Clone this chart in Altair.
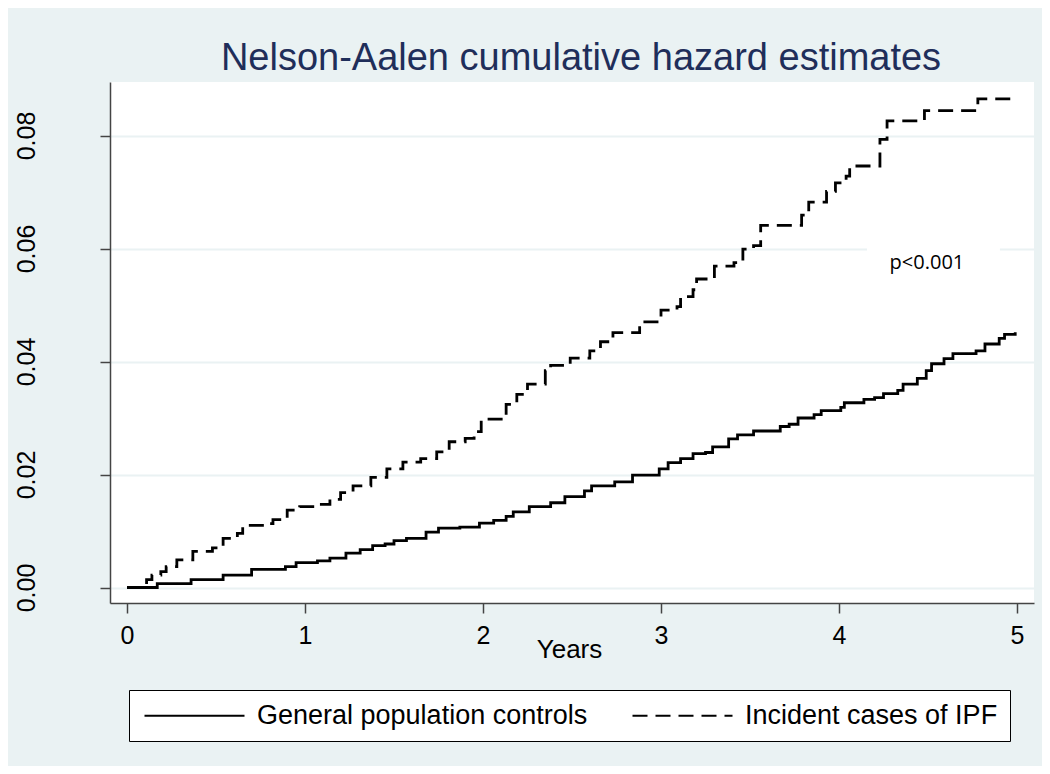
import altair as alt
import pandas as pd

# ---- data ----
series_names = ["General population controls", "Incident cases of IPF"]

ctrl_t = [0.00, 0.17, 0.36, 0.54, 0.70, 0.89, 0.95, 1.07, 1.14, 1.23, 1.31, 1.38,
          1.45, 1.50, 1.57, 1.68, 1.75, 1.87, 1.98, 2.06, 2.13, 2.17, 2.26, 2.38,
          2.46, 2.57, 2.61, 2.74, 2.84, 2.99, 3.04, 3.11, 3.18, 3.25, 3.29, 3.38,
          3.43, 3.52, 3.67, 3.72, 3.77, 3.86, 3.90, 4.01, 4.03, 4.14, 4.20, 4.25,
          4.33, 4.36, 4.44, 4.49, 4.52, 4.59, 4.64, 4.77, 4.82, 4.90, 4.93, 4.99]
ctrl_v = [0.0000, 0.0007, 0.0014, 0.0022, 0.0032, 0.0037, 0.0044, 0.0047, 0.0052, 0.0061, 0.0067, 0.0074,
          0.0077, 0.0083, 0.0087, 0.0098, 0.0105, 0.0107, 0.0114, 0.0119, 0.0126, 0.0134, 0.0143, 0.0150,
          0.0161, 0.0171, 0.0180, 0.0187, 0.0199, 0.0210, 0.0221, 0.0228, 0.0237, 0.0239, 0.0249, 0.0263,
          0.0270, 0.0277, 0.0285, 0.0289, 0.0300, 0.0306, 0.0313, 0.0319, 0.0327, 0.0333, 0.0336, 0.0343,
          0.0349, 0.0360, 0.0370, 0.0384, 0.0396, 0.0405, 0.0414, 0.0419, 0.0431, 0.0441, 0.0448, 0.0452]

ipf_t = [0.00, 0.11, 0.14, 0.19, 0.22, 0.28, 0.37, 0.48, 0.54, 0.62, 0.65, 0.77,
         0.82, 0.90, 0.97, 1.07, 1.14, 1.20, 1.27, 1.37, 1.46, 1.55, 1.65, 1.74,
         1.81, 1.90, 1.95, 1.99, 2.13, 2.19, 2.25, 2.35, 2.38, 2.49, 2.60, 2.66,
         2.73, 2.88, 3.00, 3.09, 3.11, 3.18, 3.20, 3.30, 3.41, 3.46, 3.52, 3.56,
         3.79, 3.83, 3.93, 3.98, 4.04, 4.06, 4.23, 4.27, 4.48, 4.78, 4.99]
ipf_v = [0.0000, 0.0014, 0.0022, 0.0028, 0.0037, 0.0049, 0.0064, 0.0070, 0.0087, 0.0096, 0.0110, 0.0113,
         0.0120, 0.0137, 0.0143, 0.0147, 0.0156, 0.0168, 0.0180, 0.0195, 0.0210, 0.0222, 0.0228, 0.0240,
         0.0258, 0.0264, 0.0276, 0.0298, 0.0324, 0.0342, 0.0360, 0.0384, 0.0393, 0.0406, 0.0419, 0.0435,
         0.0451, 0.0470, 0.0491, 0.0497, 0.0515, 0.0527, 0.0546, 0.0569, 0.0575, 0.0599, 0.0605, 0.0641,
         0.0659, 0.0682, 0.0701, 0.0716, 0.0728, 0.0746, 0.0793, 0.0826, 0.0844, 0.0865, 0.0865]

x_ticks = [0, 1, 2, 3, 4, 5]
y_ticks = [0.00, 0.02, 0.04, 0.06, 0.08]

title_text = "Nelson-Aalen cumulative hazard estimates"
x_title = "Years"
p_label = "p<0.001"
p_t = [4.494]
p_v = [0.0564]
box_t = [4.157]
box_t2 = [4.904]
box_v = [0.0535]
box_v2 = [0.0617]

# ---- tables ----
df = pd.concat([
    pd.DataFrame({"t": ctrl_t, "v": ctrl_v, "group": series_names[0]}),
    pd.DataFrame({"t": ipf_t, "v": ipf_v, "group": series_names[1]}),
], ignore_index=True)
df_box = pd.DataFrame({"t": box_t, "t2": box_t2, "v": box_v, "v2": box_v2})
df_p = pd.DataFrame({"t": p_t, "v": p_v, "label": [p_label]})

FONT = "Liberation Sans"
BG = "#EAF2F3"
AX = "#444444"

x_scale = alt.Scale(domain=[-0.0955, 5.0955], nice=False, zero=False)
y_scale = alt.Scale(domain=[-0.00274, 0.08947], nice=False, zero=False)

x_axis = alt.Axis(values=x_ticks, format="d", title=x_title, grid=False,
                  labelAngle=0, labelFontSize=25, labelFont=FONT, labelColor="black",
                  labelPadding=10, labelFlush=False,
                  tickSize=10, tickColor=AX, tickWidth=1.5,
                  domainColor=AX, domainWidth=1.5,
                  titleFont=FONT, titleFontSize=26, titleFontWeight="normal",
                  titleColor="black", titleX=459, titleY=54, titleAlign="center",
                  titleBaseline="alphabetic")
y_axis = alt.Axis(values=y_ticks, format=".2f", title=None, grid=True,
                  gridColor=BG, gridWidth=2,
                  labelAngle=270, labelAlign="center", labelBaseline="alphabetic",
                  labelFontSize=25, labelFont=FONT, labelColor="black",
                  labelPadding=66, labelFlush=False,
                  tickSize=10, tickColor=AX, tickWidth=1.5,
                  domainColor=AX, domainWidth=1.5)

lines = alt.Chart(df).mark_line(interpolate="step-after", color="black",
                                strokeWidth=2.8, strokeCap="butt").encode(
    x=alt.X("t:Q", scale=x_scale, axis=x_axis),
    y=alt.Y("v:Q", scale=y_scale, axis=y_axis),
    strokeDash=alt.StrokeDash(
        "group:N",
        scale=alt.Scale(domain=series_names, range=[[1, 0], [15, 8]]),
        legend=alt.Legend(
            title=None, orient="none", legendX=19, legendY=608,
            direction="horizontal", fillColor="white", strokeColor="black",
            padding=12, symbolType="M-5,0H5", symbolSize=400,
            symbolStrokeWidth=2, symbolStrokeColor="black",
            symbolFillColor="transparent", symbolOffset=40,
            labelOffset=49, labelFontSize=27, labelFont=FONT,
            labelColor="black", labelLimit=0, columnPadding=40,
        ),
    ),
)

box = alt.Chart(df_box).mark_rect(color="white").encode(
    x=alt.X("t:Q", scale=x_scale), x2="t2",
    y=alt.Y("v:Q", scale=y_scale), y2="v2",
)

ptext = alt.Chart(df_p).mark_text(font="Open Sans", fontSize=20, color="black",
                                  align="center", baseline="alphabetic").encode(
    x=alt.X("t:Q", scale=x_scale),
    y=alt.Y("v:Q", scale=y_scale),
    text="label:N",
)

chart = alt.layer(lines, box, ptext).properties(
    width=924, height=521,
    padding={"left": 102, "top": 74, "right": 8, "bottom": 163},
    autosize=alt.AutoSizeParams(type="none"),
    background=BG,
    title=alt.TitleParams(text=title_text, font=FONT, fontSize=38,
                          fontWeight="normal", color="#1F2E5A",
                          anchor="middle", dx=9, dy=38, offset=12,
                          baseline="alphabetic"),
).configure_view(fill="white", strokeWidth=0)

chart.save("out.html", embed_options={"renderer": "svg", "actions": False})
